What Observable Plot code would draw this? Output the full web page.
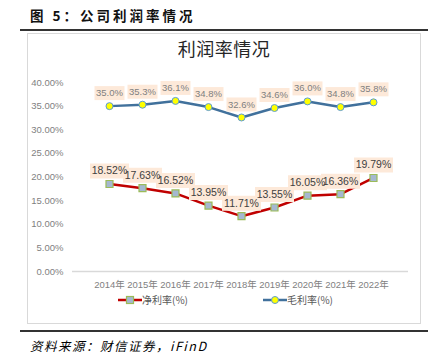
<!DOCTYPE html>
<html><head><meta charset="utf-8">
<script src="https://cdn.jsdelivr.net/npm/d3@7"></script>
<script src="https://cdn.jsdelivr.net/npm/@observablehq/plot@0.6"></script>
<style>
body{margin:0;background:#fff;font-family:"Liberation Sans","Noto Sans CJK SC",sans-serif;}
#wrap{position:relative;width:430px;height:361px;overflow:hidden;}
.abs{position:absolute;}
#title{left:30px;top:5px;font-size:13.5px;font-weight:bold;color:#111;font-family:"Noto Sans CJK SC",sans-serif;letter-spacing:3px;}
#rule1{left:20px;top:29px;width:408px;height:2px;background:#333;}
#box{left:27px;top:33px;width:392px;height:289px;border:1px solid #d9d9d9;}
#ctitle{left:27px;width:394px;top:35px;text-align:center;font-size:18px;color:#262626;font-family:"Noto Sans CJK SC",sans-serif;letter-spacing:0.5px;}
#rule2{left:20px;top:330px;width:408px;height:2px;background:#333;}
#src{left:30px;top:336px;font-size:12.5px;font-style:italic;color:#000;font-family:"Noto Sans CJK SC",serif;letter-spacing:1.5px;}
.leg{top:292px;font-size:10px;color:#595959;display:flex;align-items:center;font-family:"Noto Sans CJK SC",sans-serif;}
#plot{left:0;top:0;}
</style></head>
<body>
<div id="wrap">
  <div id="box" class="abs"></div>
  <div id="title" class="abs">图 5：公司利润率情况</div>
  <div id="rule1" class="abs"></div>
  <div id="ctitle" class="abs">利润率情况</div>
  <div id="plot" class="abs"></div>
  <div id="leg1" class="abs leg" style="left:118px"></div>
  <div id="leg2" class="abs leg" style="left:263px"></div>
  <div id="rule2" class="abs"></div>
  <div id="src" class="abs">资料来源：财信证券，iFinD</div>
</div>
<script>
const years = ["2014年","2015年","2016年","2017年","2018年","2019年","2020年","2021年","2022年"];
const netMargin = [0.1852,0.1763,0.1652,0.1395,0.1171,0.1355,0.1605,0.1636,0.1979];
const grossMargin = [0.350,0.353,0.361,0.348,0.326,0.346,0.360,0.348,0.358];
const yTicks = [0,0.05,0.10,0.15,0.20,0.25,0.30,0.35,0.40];
const seriesNames = ["净利率(%)","毛利率(%)"];

const net = years.map((y,i)=>({year:y, v:netMargin[i]}));
const gross = years.map((y,i)=>({year:y, v:grossMargin[i]}));

const rectSym = (w,h)=>({draw(ctx){ctx.rect(-w/2,-h/2,w,h);}});
const sqSym = {draw(ctx){ctx.rect(-3.5,-3.5,7,7);}};

const chart = Plot.plot({
  width:430, height:361,
  marginLeft:72, marginRight:22, marginTop:82, marginBottom:90,
  style:{background:"transparent", fontFamily:"Liberation Sans, Noto Sans CJK SC, sans-serif"},
  x:{type:"point", domain:years, range:[91,390]},
  y:{domain:[0,0.4]},
  marks:[
    Plot.ruleY([0],{stroke:"#d9d9d9", strokeWidth:1.5}),
    Plot.axisY({ticks:yTicks, tickFormat:d=>(d*100).toFixed(2)+"%", tickSize:0, tickPadding:9, fontSize:9.5, fill:"#7f7f7f", label:null}),
    Plot.axisX({tickSize:0, tickPadding:10, fontSize:9.5, fill:"#7f7f7f", label:null}),
    Plot.line(gross,{x:"year", y:"v", stroke:"#41719c", strokeWidth:2.5}),
    Plot.line(net,{x:"year", y:"v", stroke:"#c00000", strokeWidth:2.5}),
    Plot.dot(gross,{x:"year", y:"v", r:3.5, fill:"#ffff00", stroke:"#5b9bd5", strokeWidth:1}),
    Plot.dot(net,{x:"year", y:"v", symbol:sqSym, r:4, fill:"#a5b8d0", stroke:"#9bbb59", strokeWidth:1.2}),
    Plot.dot(gross,{x:"year", y:"v", dy:-13, symbol:rectSym(30,14), r:5, fill:"#fde9d9", stroke:null}),
    Plot.text(gross,{x:"year", y:"v", dy:-13, text:d=>(d.v*100).toFixed(1)+"%", fontSize:9.5, fill:"#7f7f7f"}),
    Plot.dot(net,{x:"year", y:"v", dy:-13, symbol:rectSym(39,15), r:5, fill:"#fde9d9", stroke:null}),
    Plot.text(net,{x:"year", y:"v", dy:-13, text:d=>(d.v*100).toFixed(2)+"%", fontSize:10.5, fill:"#404040"})
  ]
});
document.getElementById("plot").appendChild(chart);

document.getElementById("leg1").innerHTML =
 '<svg width="24" height="10"><line x1="0" y1="5" x2="24" y2="5" stroke="#c00000" stroke-width="2.5"/><rect x="8.5" y="1.5" width="7" height="7" fill="#a5b8d0" stroke="#9bbb59" stroke-width="1.2"/></svg><span>'+seriesNames[0]+'</span>';
document.getElementById("leg2").innerHTML =
 '<svg width="24" height="10"><line x1="0" y1="5" x2="24" y2="5" stroke="#41719c" stroke-width="2.5"/><circle cx="12" cy="5" r="3.5" fill="#ffff00" stroke="#5b9bd5"/></svg><span>'+seriesNames[1]+'</span>';
</script>
</body></html>
